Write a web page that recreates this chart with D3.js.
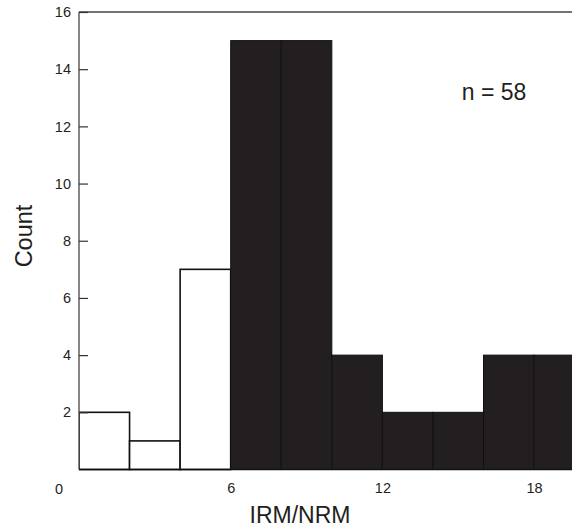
<!DOCTYPE html>
<html><head><meta charset="utf-8">
<script src="https://cdn.jsdelivr.net/npm/d3@7"></script>
<style>body{margin:0;background:#fff}svg{display:block}text{font-family:"Liberation Sans",Arial,sans-serif;fill:#231f20}</style>
</head><body>
<script>
const binStarts = [0, 2, 4, 6, 8, 10, 12, 14, 16, 18];
const counts = [2, 1, 7, 15, 15, 4, 2, 2, 4, 4];
const groups = ["white", "white", "white", "black", "black", "black", "black", "black", "black", "black"];
const binWidth = 2;
const yTicks = [2, 4, 6, 8, 10, 12, 14, 16];
const xTicks = [6, 12, 18];

const W = 572, H = 529;
const svg = d3.select("body").append("svg").attr("width", W).attr("height", H);
const x = d3.scaleLinear().domain([0, 19.5]).range([79, 572]);
const y = d3.scaleLinear().domain([0, 16]).range([469.5, 12]);

svg.append("defs").append("clipPath").attr("id", "c")
  .append("rect").attr("x", 79).attr("y", 0).attr("width", 493).attr("height", 480);

const data = binStarts.map((s, i) => ({s, c: counts[i], g: groups[i]}));
const g = svg.append("g").attr("clip-path", "url(#c)");
g.selectAll("rect.bar").data(data).join("rect")
  .attr("x", d => x(d.s))
  .attr("y", d => y(d.c))
  .attr("width", d => x(d.s + binWidth) - x(d.s))
  .attr("height", d => y(0) - y(d.c))
  .attr("fill", d => d.g === "black" ? "#231f20" : "#fff")
  .attr("stroke", "#111")
  .attr("stroke-width", d => d.g === "black" ? 1 : 1.6);

// axes lines
svg.append("line").attr("x1", 79).attr("x2", 79).attr("y1", y(16)).attr("y2", y(0))
  .attr("stroke", "#444").attr("stroke-width", 1.3);
svg.append("line").attr("x1", 79).attr("x2", W).attr("y1", y(16)).attr("y2", y(16))
  .attr("stroke", "#444").attr("stroke-width", 1.3);
svg.append("line").attr("x1", 79).attr("x2", W).attr("y1", y(0)).attr("y2", y(0))
  .attr("stroke", "#111").attr("stroke-width", 1.6);

// y ticks
const yAxis = d3.axisLeft(y).tickValues(yTicks).tickSize(-9).tickPadding(8).tickFormat(d3.format("d"));
const ya = svg.append("g").attr("transform", "translate(79,0)").call(yAxis);
ya.select(".domain").remove();
ya.selectAll(".tick line").attr("stroke", "#333").attr("stroke-width", 1.2);
ya.selectAll(".tick text").attr("font-size", 14.5).attr("fill", "#231f20")
  .attr("font-family", '"Liberation Sans",Arial,sans-serif');

// x ticks
const xAxis = d3.axisBottom(x).tickValues(xTicks).tickSize(0).tickPadding(13).tickFormat(d3.format("d"));
const xa = svg.append("g").attr("transform", `translate(0,${y(0)})`).call(xAxis);
xa.select(".domain").remove();
xa.selectAll(".tick text").attr("font-size", 14.5).attr("fill", "#231f20")
  .attr("font-family", '"Liberation Sans",Arial,sans-serif');
svg.append("text").attr("x", 59).attr("y", 494).attr("text-anchor", "middle").attr("font-size", 14.5).text("0");

svg.append("text").attr("x", 300).attr("y", 523).attr("text-anchor", "middle").attr("font-size", 23).text("IRM/NRM");
svg.append("text").attr("transform", "translate(32,236) rotate(-90)").attr("text-anchor", "middle").attr("font-size", 23.5).text("Count");
svg.append("text").attr("x", 494).attr("y", 100).attr("text-anchor", "middle").attr("font-size", 23).text("n = 58");
</script>
</body></html>
